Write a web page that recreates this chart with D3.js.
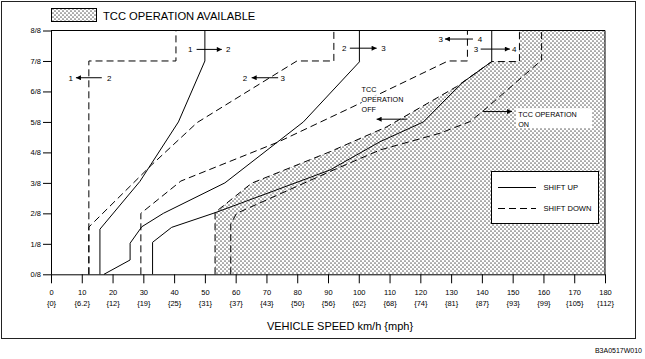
<!DOCTYPE html>
<html><head><meta charset="utf-8">
<script src="https://cdn.jsdelivr.net/npm/d3@7"></script>
<style>
html,body{margin:0;padding:0;background:#fff;}
svg{display:block;font-family:"Liberation Sans",Arial,sans-serif;}
</style></head>
<body>
<svg id="c" width="645" height="359"></svg>
<script>
// ---------- data ----------
const speedTicks = [0,10,20,30,40,50,60,70,80,90,100,110,120,130,140,150,160,170,180];
const mphLabels = ["0","6.2","12","19","25","31","37","43","50","56","62","68","74","81","87","93","99","105","112"];
const throttleTicks = [0,1,2,3,4,5,6,7,8];

// shift up (solid) lines: [km/h, throttle eighths]
const upshift12 = [[15.9,0],[15.9,1.48],[28.9,3.05],[41.4,5.0],[50,7],[50,8]];
const upshift23 = [[17.2,0],[25.7,0.47],[25.7,1.02],[29.5,1.56],[36.5,2.0],[56.5,3.0],[82.0,5.0],[100.2,6.97],[100.2,8]];
const upshift34 = [[33.0,0],[33.0,1.05],[39.2,1.54],[53.3,2.02],[90.6,3.42],[106.9,4.35],[121,5.0],[133.4,6.27],[143.2,6.98],[143.2,8]];
// shift down (dashed) lines
const downshift12 = [[12.3,0],[12.3,7],[40.6,7],[40.6,8]];
const downshift23 = [[12.3,0],[12.3,1.55],[32.7,3.59],[47.5,4.98],[79.9,7.0],[91.9,7.0],[91.9,8]];
const downshift34 = [[29.2,0],[29.2,2.0],[42.2,3.06],[73.8,4.34],[98.1,5.5],[129,7.0],[135.3,7.0],[135.3,8]];
// TCC lines
const tccOff = [[53.3,0],[53.3,2.03],[65.2,2.99],[90.6,4.02],[109.1,4.84],[131.8,6.16],[143.2,6.98],[152.2,6.98],[152.2,8]];
const tccOn = [[58.4,0],[58.4,1.65],[60.3,2.0],[90.6,3.37],[106.9,4.08],[126.4,4.63],[136.1,5.01],[140.4,5.36],[159.4,7.03],[159.4,8]];

// ---------- drawing ----------
const svg = d3.select("#c");
const x = d3.scaleLinear().domain([0,180]).range([51,605]);
const y = d3.scaleLinear().domain([0,8]).range([274.3,30.5]);

const defs = svg.append("defs");
const pat = defs.append("pattern").attr("id","dots").attr("patternUnits","userSpaceOnUse")
  .attr("width",4).attr("height",4);
pat.append("rect").attr("width",4).attr("height",4).attr("fill","#fff");
pat.append("circle").attr("cx",1).attr("cy",1).attr("r",0.85).attr("fill","#666");
pat.append("circle").attr("cx",3).attr("cy",3).attr("r",0.85).attr("fill","#666");
defs.append("marker").attr("id","ah").attr("viewBox","0 0 10 10").attr("refX",10).attr("refY",5)
  .attr("markerWidth",7).attr("markerHeight",5).attr("markerUnits","userSpaceOnUse").attr("orient","auto")
  .append("path").attr("d","M0,0L10,5L0,10Z").attr("fill","#000");

// outer frame
svg.append("rect").attr("x",1.5).attr("y",1.5).attr("width",634).attr("height",337)
  .attr("fill","none").attr("stroke","#222").attr("stroke-width",1);

// top legend
svg.append("rect").attr("x",51.5).attr("y",8.5).attr("width",45).attr("height",13)
  .attr("fill","url(#dots)").attr("stroke","#000");
svg.append("text").attr("x",103).attr("y",19.5).attr("font-size",11.2).text("TCC OPERATION AVAILABLE");

const line = d3.line().x(d=>x(d[0])).y(d=>y(d[1]));

// hatched area
svg.append("path").datum(tccOff.concat([[180,8],[180,0]]))
  .attr("d", d=>line(d)+"Z").attr("fill","url(#dots)").attr("stroke","none");

// axes
const gy = svg.append("g").attr("transform",`translate(${x(0)},0)`)
  .call(d3.axisLeft(y).tickValues(throttleTicks).tickSize(8).tickSizeOuter(0).tickFormat(d=>d+"/8"));
gy.selectAll("text").attr("font-size",7.5).attr("font-family","Liberation Sans, Arial, sans-serif").attr("x",-10);
const gx = svg.append("g").attr("transform",`translate(0,${y(0)})`)
  .call(d3.axisBottom(x).tickValues(speedTicks).tickSize(9).tickSizeOuter(0).tickFormat(""));
gx.selectAll(".tick").each(function(d,i){
  const t = d3.select(this).append("text").attr("fill","#000").attr("font-size",7.5)
    .attr("font-family","Liberation Sans, Arial, sans-serif").attr("text-anchor","middle");
  t.append("tspan").attr("x",0).attr("y",21).text(d);
  t.append("tspan").attr("x",0).attr("y",32).text("{"+mphLabels[i]+"}");
});
svg.selectAll(".domain, .tick line").attr("stroke","#000");
// top & right plot border
svg.append("path").attr("d",`M${x(0)},${y(8)}H${x(180)}V${y(0)}`).attr("fill","none").attr("stroke","#000");

// lines
const solid = [upshift12, upshift23, upshift34];
const dashed = [downshift12, downshift23, downshift34, tccOff, tccOn];
svg.append("g").selectAll("path").data(solid).join("path").attr("d",line)
  .attr("fill","none").attr("stroke","#000").attr("stroke-width",1);
svg.append("g").selectAll("path").data(dashed).join("path").attr("d",line)
  .attr("fill","none").attr("stroke","#000").attr("stroke-width",1).attr("stroke-dasharray","7,4");

// shift labels
function shiftLabel(a, b, xa, xb, x1, x2, yy){
  const g = svg.append("g").attr("font-size",8);
  g.append("text").attr("x",x(xa)).attr("y",y(yy)).attr("dy","0.35em").attr("text-anchor","middle").text(a);
  g.append("text").attr("x",x(xb)).attr("y",y(yy)).attr("dy","0.35em").attr("text-anchor","middle").text(b);
  g.append("line").attr("x1",x(x1)).attr("x2",x(x2)).attr("y1",y(yy)).attr("y2",y(yy))
    .attr("stroke","#000").attr("marker-end","url(#ah)");
}
shiftLabel("1","2",45.2,57.6,47.3,55.5,7.38);
shiftLabel("1","2",6.4,18.9,16.5,8.1,6.45);
shiftLabel("2","3",63.0,75.3,73.8,65.2,6.45);
shiftLabel("2","3",95.3,108,97.1,105.8,7.42);
shiftLabel("3","4",126.6,139.4,137.1,128,7.72);
shiftLabel("3","4",138.1,150.5,139.6,149.1,7.39);

// TCC OFF label
const off = svg.append("g").attr("font-size",7.2);
["TCC","OPERATION","OFF"].forEach((s,i)=>{
  off.append("text").attr("x",x(100.9)).attr("y",y([6.07,5.75,5.42][i])).attr("dy","0.35em")
    .attr("stroke","#fff").attr("stroke-width",3).attr("paint-order","stroke").text(s);
});
svg.append("line").attr("x1",x(115.6)).attr("x2",x(105.8)).attr("y1",y(5.09)).attr("y2",y(5.09))
  .attr("stroke","#000").attr("marker-end","url(#ah)");

// TCC ON label
svg.append("rect").attr("x",x(151.1)).attr("y",y(5.45)).attr("width",x(175.8)-x(151.1)).attr("height",y(4.8)-y(5.45))
  .attr("fill","#fff");
const on = svg.append("g").attr("font-size",7.2);
on.append("text").attr("x",x(151.8)).attr("y",y(5.25)).attr("dy","0.35em").text("TCC OPERATION");
on.append("text").attr("x",x(151.8)).attr("y",y(4.93)).attr("dy","0.35em").text("ON");
svg.append("line").attr("x1",x(140.4)).attr("x2",x(149.8)).attr("y1",y(5.34)).attr("y2",y(5.34))
  .attr("stroke","#000").attr("marker-end","url(#ah)");

// legend box
const lg = svg.append("g");
lg.append("rect").attr("x",491.5).attr("y",171.5).attr("width",107).attr("height",52)
  .attr("fill","#fff").attr("stroke","#000");
lg.append("line").attr("x1",498).attr("x2",536).attr("y1",187.5).attr("y2",187.5).attr("stroke","#000");
lg.append("line").attr("x1",498).attr("x2",536).attr("y1",208.5).attr("y2",208.5).attr("stroke","#000").attr("stroke-dasharray","7,4");
lg.append("text").attr("x",543.5).attr("y",187.5).attr("dy","0.35em").attr("font-size",7.6).text("SHIFT UP");
lg.append("text").attr("x",543.5).attr("y",208.5).attr("dy","0.35em").attr("font-size",7.6).text("SHIFT DOWN");

// axis title and figure code
svg.append("text").attr("x",340).attr("y",330).attr("text-anchor","middle").attr("font-size",11).text("VEHICLE SPEED km/h {mph}");
svg.append("text").attr("x",642).attr("y",353).attr("text-anchor","end").attr("font-size",7).text("B3A0517W010");
</script>
</body></html>
